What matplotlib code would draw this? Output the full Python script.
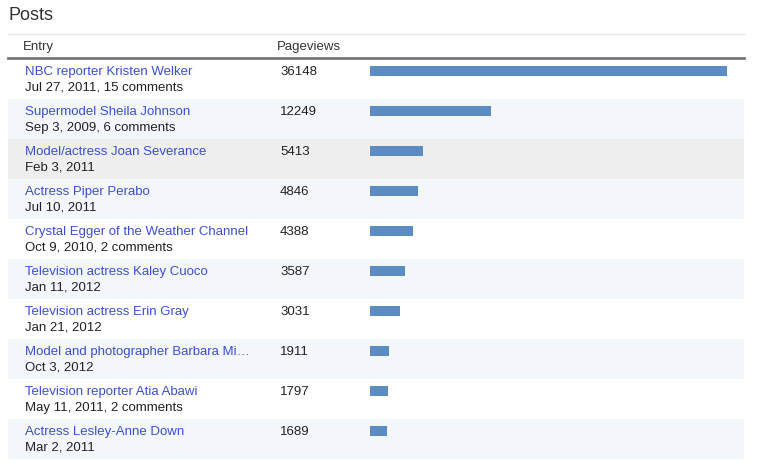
import matplotlib
matplotlib.use("Agg")
import matplotlib.pyplot as plt
from matplotlib.patches import Rectangle

titles = ["NBC reporter Kristen Welker", "Supermodel Sheila Johnson", "Model/actress Joan Severance",
          "Actress Piper Perabo", "Crystal Egger of the Weather Channel", "Television actress Kaley Cuoco",
          "Television actress Erin Gray", "Model and photographer Barbara Mi\u2026",
          "Television reporter Atia Abawi", "Actress Lesley-Anne Down"]
subtitles = ["Jul 27, 2011, 15 comments", "Sep 3, 2009, 6 comments", "Feb 3, 2011", "Jul 10, 2011",
             "Oct 9, 2010, 2 comments", "Jan 11, 2012", "Jan 21, 2012", "Oct 3, 2012",
             "May 11, 2011, 2 comments", "Mar 2, 2011"]
pageviews = [36148, 12249, 5413, 4846, 4388, 3587, 3031, 1911, 1797, 1689]

plt.rcParams['font.family'] = ['Liberation Sans', 'DejaVu Sans']
W, H = 758, 464
fig = plt.figure(figsize=(W/100, H/100), dpi=100)
ax = fig.add_axes([0, 0, 1, 1])
ax.set_xlim(0, W); ax.set_ylim(H, 0); ax.axis('off')

top, rh = 60, 40
for i in range(len(titles)):
    y0 = top + i*rh
    if i == 2:
        col = '#eeeeee'
    elif i % 2 == 1:
        col = '#f3f6fb'
    else:
        col = 'white'
    ax.add_patch(Rectangle((8, y0), 736, rh, color=col, lw=0))
    ax.text(25, y0 + 12, titles[i], color='#3c4fd0', fontsize=9.5, va='center')
    ax.text(25, y0 + 28, subtitles[i], color='#222222', fontsize=9.5, va='center')
    ax.text(280, y0 + 12, str(pageviews[i]), color='#222222', fontsize=9.5, va='center')

ax.text(8, 15, "Posts", fontsize=13, color='#333333', va='center')
ax.plot([8, 744], [35, 35], color='#e5e5e5', lw=1)
ax.text(23, 47, "Entry", fontsize=9.5, color='#333333', va='center')
ax.text(277, 47, "Pageviews", fontsize=9.5, color='#333333', va='center')
ax.plot([8, 744], [59, 59], color='#777777', lw=2)

bax = fig.add_axes([370/W, 1 - (top + rh*len(titles))/H, 357/W, rh*len(titles)/H])
bax.set_xlim(0, max(pageviews)); bax.set_ylim(len(titles), 0)
bax.barh([i + 0.3 for i in range(len(titles))], pageviews, height=0.25, color='#5b8cc3')
bax.axis('off'); bax.patch.set_alpha(0)

fig.savefig("out.png", dpi=100)
